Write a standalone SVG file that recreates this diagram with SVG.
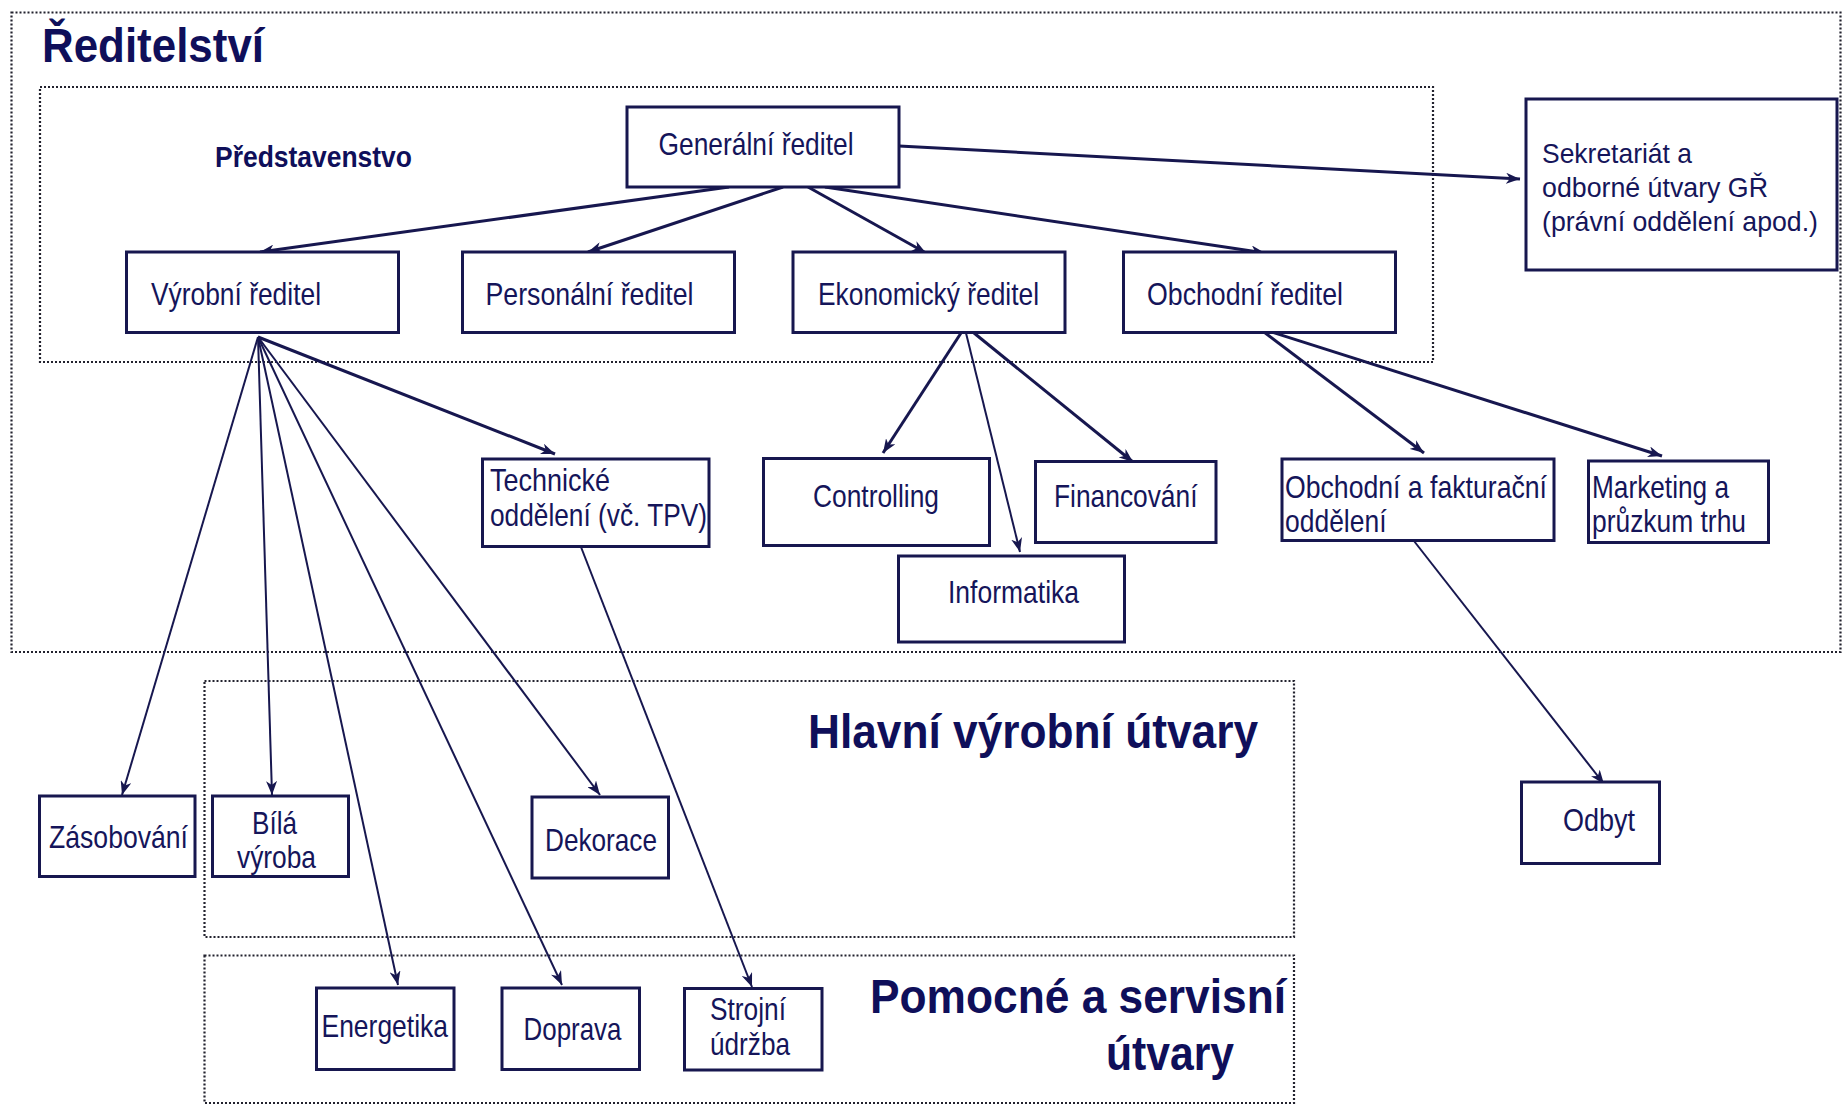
<svg xmlns="http://www.w3.org/2000/svg" width="1843" height="1107" viewBox="0 0 1843 1107">
<defs>
<style>
.bg{fill:#ffffff}
.frame{fill:none;stroke:#22222e;stroke-width:2.2;stroke-dasharray:2 2}
.box{fill:#ffffff;stroke:#17174f;stroke-width:3}
.t{font-family:"Liberation Sans",Arial,sans-serif;font-size:30.5px;fill:#15155a}
.ts{font-family:"Liberation Sans",Arial,sans-serif;font-size:27.5px;fill:#15155a}
.h{font-family:"Liberation Sans",Arial,sans-serif;font-size:48px;font-weight:bold;fill:#0f0f5a}
.hs{font-family:"Liberation Sans",Arial,sans-serif;font-size:29px;font-weight:bold;fill:#0f0f5a}
.c1{fill:none;stroke:#17174f;stroke-width:3;marker-end:url(#ah)}
.c2{fill:none;stroke:#17174f;stroke-width:2;marker-end:url(#ah)}
</style>
<marker id="ah" markerUnits="userSpaceOnUse" markerWidth="15" markerHeight="11" refX="14" refY="5.5" orient="auto">
<path d="M0,0 L14,5.5 L0,11 L4,5.5 z" fill="#17174f"/>
</marker>
</defs>
<rect class="bg" x="0" y="0" width="1843" height="1107"/>

<g id="frames">
<rect id="frame-reditelstvi" class="frame" x="11.5" y="12.5" width="1829" height="639.5"/>
<rect id="frame-predstavenstvo" class="frame" x="40" y="87" width="1393" height="275"/>
<rect id="frame-hlavni" class="frame" x="204.5" y="681" width="1089.5" height="256"/>
<rect id="frame-pomocne" class="frame" x="204.5" y="955.5" width="1089.5" height="147.5"/>
<text class="h" x="42" y="62" textLength="222" lengthAdjust="spacingAndGlyphs">Ředitelství</text>
<text class="hs" x="215" y="167" textLength="197" lengthAdjust="spacingAndGlyphs">Představenstvo</text>
<text class="h" x="808" y="748" textLength="450" lengthAdjust="spacingAndGlyphs">Hlavní výrobní útvary</text>
<text class="h" x="870" y="1013" textLength="416" lengthAdjust="spacingAndGlyphs">Pomocné a servisní</text>
<text class="h" x="1106" y="1070" textLength="128" lengthAdjust="spacingAndGlyphs">útvary</text>
</g>

<g id="connectors">
<line class="c1" x1="899" y1="146" x2="1520" y2="179"/>
<line class="c1" x1="729" y1="187" x2="260" y2="252"/>
<line class="c1" x1="783" y1="187" x2="588" y2="252"/>
<line class="c1" x1="808" y1="187" x2="926" y2="253"/>
<line class="c1" x1="825" y1="187" x2="1265" y2="253"/>
<line class="c1" x1="258" y1="337" x2="555" y2="454"/>
<line class="c2" x1="258" y1="337" x2="122" y2="795"/>
<line class="c2" x1="258" y1="337" x2="272" y2="795"/>
<line class="c2" x1="258" y1="337" x2="398" y2="985"/>
<line class="c2" x1="258" y1="337" x2="562" y2="985"/>
<line class="c2" x1="258" y1="337" x2="600" y2="795"/>
<line class="c2" x1="581" y1="547" x2="752" y2="987"/>
<line class="c1" x1="961" y1="333" x2="883" y2="453"/>
<line class="c2" x1="966" y1="333" x2="1020" y2="552"/>
<line class="c1" x1="974" y1="333" x2="1133" y2="462"/>
<line class="c1" x1="1260" y1="329" x2="1424" y2="453"/>
<line class="c1" x1="1262" y1="329" x2="1662" y2="456"/>
<line class="c2" x1="1414" y1="541" x2="1604" y2="784"/>
</g>

<g id="n-generalni"><rect class="box" x="627" y="107" width="272" height="80"/><text class="t" x="658.5" y="155" textLength="195" lengthAdjust="spacingAndGlyphs">Generální ředitel</text></g>
<g id="n-sekretariat"><rect class="box" x="1526" y="99" width="311" height="171"/>
<text class="ts" x="1542" y="163" textLength="150" lengthAdjust="spacingAndGlyphs">Sekretariát a</text>
<text class="ts" x="1542" y="197" textLength="226" lengthAdjust="spacingAndGlyphs">odborné útvary GŘ</text>
<text class="ts" x="1542" y="231" textLength="276" lengthAdjust="spacingAndGlyphs">(právní oddělení apod.)</text></g>
<g id="n-vyrobni"><rect class="box" x="126.5" y="252" width="272" height="80.5"/><text class="t" x="151" y="305" textLength="170" lengthAdjust="spacingAndGlyphs">Výrobní ředitel</text></g>
<g id="n-personalni"><rect class="box" x="462.5" y="252" width="272" height="80.5"/><text class="t" x="485.5" y="305" textLength="208" lengthAdjust="spacingAndGlyphs">Personální ředitel</text></g>
<g id="n-ekonomicky"><rect class="box" x="793" y="252" width="272" height="80.5"/><text class="t" x="818" y="305" textLength="221" lengthAdjust="spacingAndGlyphs">Ekonomický ředitel</text></g>
<g id="n-obchodni"><rect class="box" x="1123.5" y="252" width="272" height="80.5"/><text class="t" x="1147" y="305" textLength="196" lengthAdjust="spacingAndGlyphs">Obchodní ředitel</text></g>
<g id="n-technicke"><rect class="box" x="482.5" y="459" width="226.5" height="87.5"/>
<text class="t" x="490" y="491" textLength="120" lengthAdjust="spacingAndGlyphs">Technické</text>
<text class="t" x="490" y="526" textLength="217" lengthAdjust="spacingAndGlyphs">oddělení (vč. TPV)</text></g>
<g id="n-controlling"><rect class="box" x="763.5" y="458.5" width="226" height="87"/><text class="t" x="813" y="507" textLength="126" lengthAdjust="spacingAndGlyphs">Controlling</text></g>
<g id="n-financovani"><rect class="box" x="1035.5" y="461.5" width="180.5" height="81"/><text class="t" x="1054" y="507" textLength="143.5" lengthAdjust="spacingAndGlyphs">Financování</text></g>
<g id="n-informatika"><rect class="box" x="898.5" y="556" width="226" height="86"/><text class="t" x="948" y="603" textLength="131" lengthAdjust="spacingAndGlyphs">Informatika</text></g>
<g id="n-obchodni-fakturacni"><rect class="box" x="1282" y="459" width="272" height="81.5"/>
<text class="t" x="1285" y="498" textLength="262" lengthAdjust="spacingAndGlyphs">Obchodní a fakturační</text>
<text class="t" x="1285" y="532" textLength="101.5" lengthAdjust="spacingAndGlyphs">oddělení</text></g>
<g id="n-marketing"><rect class="box" x="1588.5" y="461" width="180" height="81.5"/>
<text class="t" x="1592" y="498" textLength="137" lengthAdjust="spacingAndGlyphs">Marketing a</text>
<text class="t" x="1592" y="532" textLength="154" lengthAdjust="spacingAndGlyphs">průzkum trhu</text></g>
<g id="n-zasobovani"><rect class="box" x="39.5" y="796" width="155.5" height="80.5"/><text class="t" x="49" y="848" textLength="139" lengthAdjust="spacingAndGlyphs">Zásobování</text></g>
<g id="n-bila-vyroba"><rect class="box" x="212.5" y="796" width="136" height="80.5"/>
<text class="t" x="252" y="834" textLength="45" lengthAdjust="spacingAndGlyphs">Bílá</text>
<text class="t" x="237" y="868" textLength="79" lengthAdjust="spacingAndGlyphs">výroba</text></g>
<g id="n-dekorace"><rect class="box" x="532" y="797" width="136.5" height="81"/><text class="t" x="545" y="851" textLength="112" lengthAdjust="spacingAndGlyphs">Dekorace</text></g>
<g id="n-energetika"><rect class="box" x="316.5" y="988" width="137.5" height="81.5"/><text class="t" x="321.5" y="1037" textLength="126.5" lengthAdjust="spacingAndGlyphs">Energetika</text></g>
<g id="n-doprava"><rect class="box" x="502" y="988" width="137.5" height="81.5"/><text class="t" x="523.5" y="1040" textLength="98" lengthAdjust="spacingAndGlyphs">Doprava</text></g>
<g id="n-strojni"><rect class="box" x="684.5" y="988.5" width="137.5" height="81.5"/>
<text class="t" x="710" y="1020" textLength="76" lengthAdjust="spacingAndGlyphs">Strojní</text>
<text class="t" x="710" y="1055" textLength="80" lengthAdjust="spacingAndGlyphs">údržba</text></g>
<g id="n-odbyt"><rect class="box" x="1521.5" y="782" width="138" height="81.5"/><text class="t" x="1563" y="831" textLength="72" lengthAdjust="spacingAndGlyphs">Odbyt</text></g>
</svg>
